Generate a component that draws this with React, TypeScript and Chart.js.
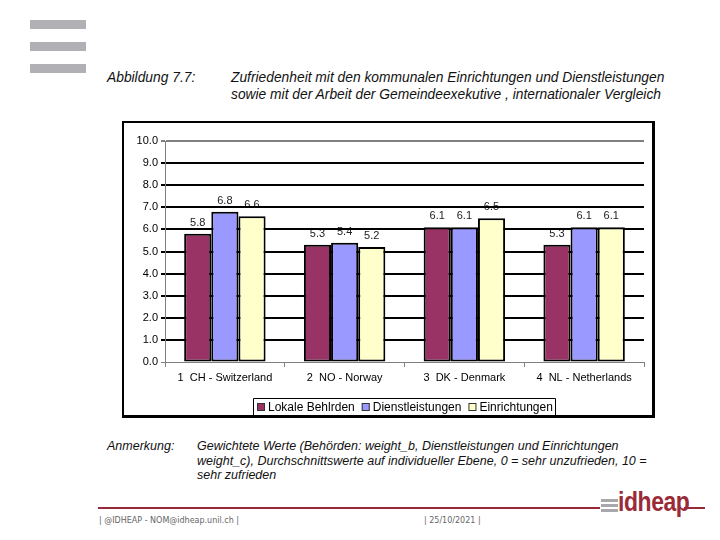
import React, { useEffect, useRef } from "react";
import { Chart, registerables } from "chart.js";

Chart.register(...registerables);

const categories = ["1  CH - Switzerland", "2  NO - Norway", "3  DK - Denmark", "4  NL - Netherlands"];
const seriesNames = ["Lokale Behlrden", "Dienstleistungen", "Einrichtungen"];
const lokaleBehoerden = [5.8, 5.3, 6.1, 5.3];
const dienstleistungen = [6.8, 5.4, 6.1, 6.1];
const einrichtungen = [6.6, 5.2, 6.5, 6.1];
const seriesColors = ["#993366", "#9999FF", "#FFFFCC"];
const yMin = 0;
const yMax = 10;
const yStep = 1;

const FONT = "'Liberation Sans', Arial, sans-serif";

const valueLabels = {
  id: "valueLabels",
  beforeDraw(chart: any) {
    const ctx = chart.ctx;
    ctx.save();
    ctx.font = `11px ${FONT}`;
    ctx.fillStyle = "#222";
    ctx.textAlign = "center";
    ctx.textBaseline = "middle";
    chart.data.datasets.forEach((ds: any, i: number) => {
      const meta = chart.getDatasetMeta(i);
      meta.data.forEach((bar: any, j: number) => {
        ctx.fillText(Number(ds.data[j]).toFixed(1), bar.x, bar.y - 11);
      });
    });
    ctx.restore();
  },
};

const boxedLegend = {
  id: "boxedLegend",
  afterDraw(chart: any) {
    const ctx = chart.ctx;
    const area = chart.chartArea;
    ctx.save();
    ctx.font = `12px ${FONT}`;
    const box = 8;
    const gapBoxText = 3;
    const gapItems = 7;
    const pad = 4;
    const items = chart.data.datasets.map((ds: any) => ({
      label: ds.label,
      color: ds.backgroundColor,
      w: box + gapBoxText + ctx.measureText(ds.label).width,
    }));
    const total = items.reduce((s: number, it: any) => s + it.w, 0) + gapItems * (items.length - 1) + pad * 2;
    const cx = (area.left + area.right) / 2;
    const left = Math.round(cx - total / 2);
    const right = Math.round(cx + total / 2);
    const top = chart.height - 17;
    ctx.strokeStyle = "#000";
    ctx.lineWidth = 1;
    ctx.beginPath();
    ctx.moveTo(left + 0.5, chart.height);
    ctx.lineTo(left + 0.5, top + 0.5);
    ctx.lineTo(right - 0.5, top + 0.5);
    ctx.lineTo(right - 0.5, chart.height);
    ctx.stroke();
    let x = left + pad;
    const yc = top + 9;
    ctx.textBaseline = "middle";
    ctx.textAlign = "left";
    items.forEach((it: any) => {
      ctx.fillStyle = it.color;
      ctx.fillRect(x, yc - box / 2, box, box);
      ctx.strokeStyle = "#333";
      ctx.strokeRect(x + 0.5, yc - box / 2 + 0.5, box - 1, box - 1);
      ctx.fillStyle = "#000";
      ctx.fillText(it.label, x + box + gapBoxText, yc + 0.5);
      x += it.w + gapItems;
    });
    ctx.restore();
  },
};

function BarChart() {
  const ref = useRef<HTMLCanvasElement>(null);
  useEffect(() => {
    if (!ref.current) return;
    const seriesValues = [lokaleBehoerden, dienstleistungen, einrichtungen];
    const chart = new Chart(ref.current, {
      type: "bar",
      data: {
        labels: categories,
        datasets: seriesNames.map((name, i) => ({
          label: name,
          data: seriesValues[i],
          backgroundColor: seriesColors[i],
          borderColor: "#000",
          borderWidth: 2,
          borderSkipped: false,
          categoryPercentage: 0.68,
          barPercentage: 1.0,
        })),
      },
      options: {
        animation: false,
        responsive: false,
        maintainAspectRatio: false,
        layout: { padding: { top: 18, right: 8, left: 0, bottom: 23 } },
        plugins: {
          legend: { display: false },
          tooltip: { enabled: false },
          title: { display: false },
        },
        scales: {
          x: {
            afterFit: (s: any) => {
              s.height = 30;
            },
            grid: {
              display: true,
              drawOnChartArea: false,
              drawTicks: true,
              tickLength: 5,
              color: "#808080",
              offset: true,
            },
            border: { display: true, color: "#808080", width: 1 },
            ticks: {
              color: "#000",
              font: { family: FONT, size: 11 },
              padding: 4,
              maxRotation: 0,
              autoSkip: false,
            },
          },
          y: {
            min: yMin,
            max: yMax,
            afterFit: (s: any) => {
              s.width = 41;
            },
            ticks: {
              stepSize: yStep,
              color: "#000",
              font: { family: FONT, size: 11 },
              padding: 3,
              callback: (v: any) => Number(v).toFixed(1),
            },
            grid: {
              tickLength: 4,
              color: (c: any) => (c.tick && (c.tick.value === yMax || c.tick.value === yMin) ? "#808080" : "#000"),
              lineWidth: (c: any) => (c.tick && c.tick.value === yMin ? 1 : 2),
            },
            border: { display: true, color: "#808080", width: 1 },
          },
        },
      },
      plugins: [valueLabels, boxedLegend],
    });
    return () => chart.destroy();
  }, []);
  return <canvas ref={ref} width={528} height={292} style={{ width: 528, height: 292, display: "block" }} />;
}

const abs = (l: number, t: number, extra: React.CSSProperties = {}): React.CSSProperties => ({
  position: "absolute",
  left: l,
  top: t,
  ...extra,
});

export default function App() {
  const titleStyle: React.CSSProperties = {
    fontFamily: FONT,
    fontStyle: "italic",
    fontSize: 13.8,
    color: "#111",
    whiteSpace: "nowrap",
    lineHeight: "17px",
  };
  const noteStyle: React.CSSProperties = {
    fontFamily: FONT,
    fontStyle: "italic",
    fontSize: 12.5,
    color: "#111",
    whiteSpace: "nowrap",
    lineHeight: "14px",
  };
  const footStyle: React.CSSProperties = {
    fontFamily: "'DejaVu Sans', sans-serif",
    fontSize: 8,
    color: "#666",
    whiteSpace: "nowrap",
    lineHeight: "10px",
  };
  return (
    <div style={abs(0, 0, { width: 720, height: 540, background: "#fff", overflow: "hidden" })}>
      <div style={abs(30, 20, { width: 56, height: 9, background: "#b1b1b5" })} />
      <div style={abs(30, 42, { width: 56, height: 9, background: "#b1b1b5" })} />
      <div style={abs(30, 64, { width: 56, height: 9, background: "#b1b1b5" })} />

      <div style={abs(107, 69, titleStyle)}>Abbildung 7.7:</div>
      <div style={abs(231, 69, titleStyle)}>
        Zufriedenheit mit den kommunalen Einrichtungen und Dienstleistungen
        <br />
        sowie mit der Arbeit der Gemeindeexekutive , internationaler Vergleich
      </div>

      <div
        style={abs(122, 121, {
          width: 533,
          height: 297,
          boxSizing: "border-box",
          borderTop: "2px solid #000",
          borderLeft: "2px solid #000",
          borderRight: "3px solid #000",
          borderBottom: "3px solid #000",
        })}
      />
      <div style={abs(124, 123, { width: 528, height: 292 })}>
        <BarChart />
      </div>

      <div style={abs(107, 439, noteStyle)}>Anmerkung:</div>
      <div style={abs(197, 439, { ...noteStyle, lineHeight: "14.5px" })}>
        Gewichtete Werte (Behörden: weight_b, Dienstleistungen und Einrichtungen
        <br />
        weight_c), Durchschnittswerte auf individueller Ebene, 0 = sehr unzufrieden, 10 =
        <br />
        sehr zufrieden
      </div>

      <div style={abs(98, 507, { width: 502, height: 2, background: "#9a2a38" })} />
      <div style={abs(684, 507, { width: 21, height: 2, background: "#9a2a38" })} />
      <div style={abs(601, 499, { width: 17, height: 3, background: "#a8a8ac" })} />
      <div style={abs(601, 504, { width: 17, height: 3, background: "#a8a8ac" })} />
      <div style={abs(601, 509, { width: 17, height: 3, background: "#a8a8ac" })} />
      <div
        style={abs(618, 487, {
          fontFamily: "'Liberation Sans Narrow', 'Liberation Sans', Arial, sans-serif",
          fontWeight: "bold",
          fontSize: 27,
          color: "#9a2a38",
          lineHeight: "30px",
          transform: "scaleX(0.85)",
          transformOrigin: "left top",
          letterSpacing: -0.5,
        })}
      >
        idheap
      </div>

      <div style={abs(99, 516, footStyle)}>| @IDHEAP - NOM@idheap.unil.ch |</div>
      <div style={abs(424, 516, footStyle)}>| 25/10/2021 |</div>
    </div>
  );
}
